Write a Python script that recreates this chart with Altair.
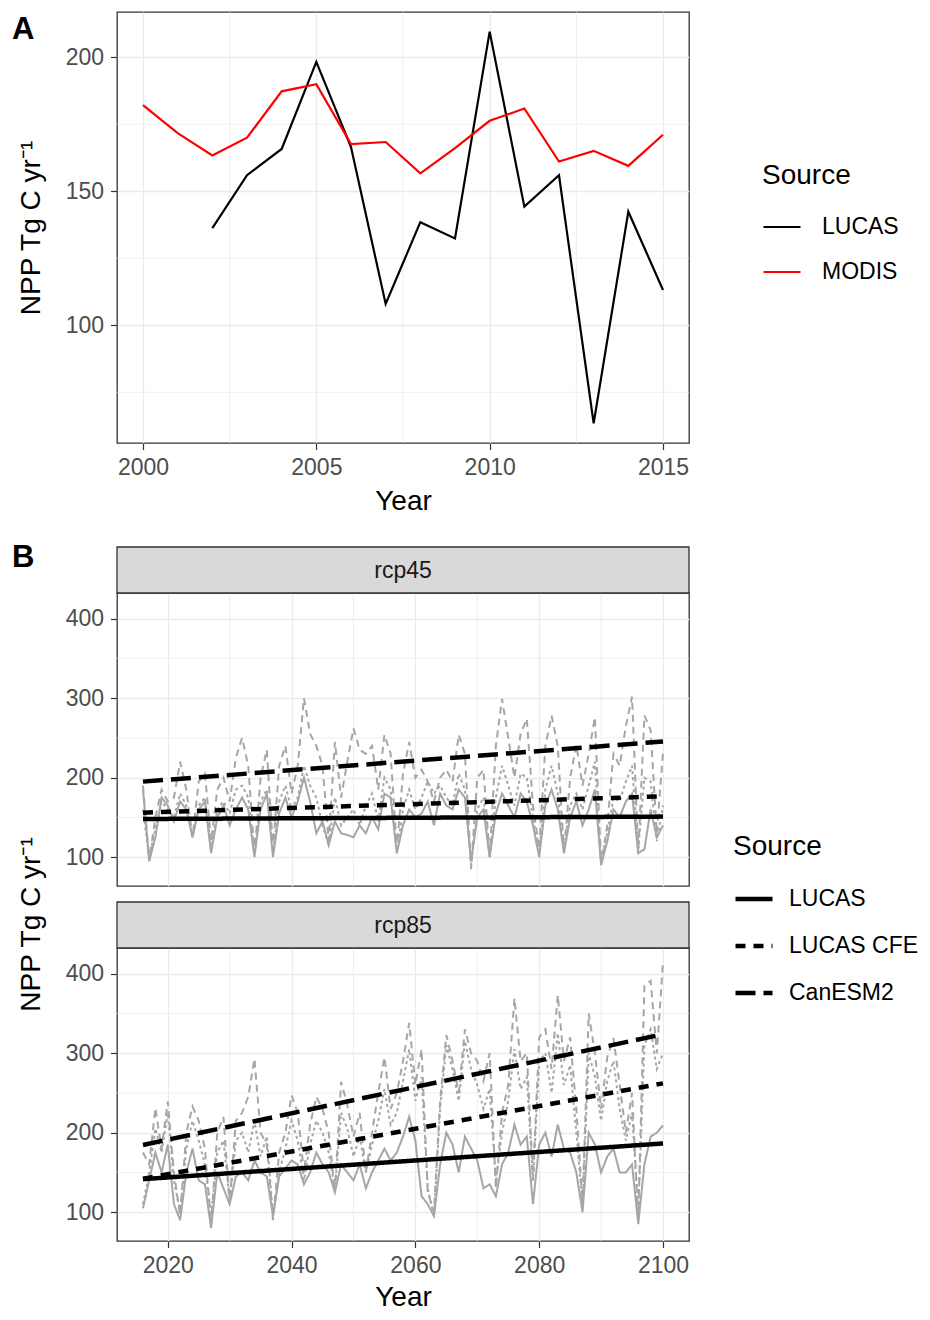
import altair as alt
import pandas as pd

FONT = "Liberation Sans"

# ---------------- Panel A data ----------------
years_a = list(range(2000, 2016))
lucas_a = [None, None, 136.3, 156.0, 165.8, 198.3, 166.5, 108.0, 138.5, 132.4,
           209.6, 144.3, 156.0, 63.4, 142.4, 113.2]
modis_a = [182.2, 171.7, 163.4, 170.0, 187.3, 190.0, 167.6, 168.4, 156.7, 166.1,
           176.3, 180.9, 161.1, 165.1, 159.5, 171.1]
sources_a = ["LUCAS", "MODIS"]
colors_a = ["#000000", "#FF0000"]
ticks_x_a = [2000, 2005, 2010, 2015]
ticks_y_a = [100, 150, 200]
minor_x_a = [2002.5, 2007.5, 2012.5]
minor_y_a = [75, 125, 175]

# ---------------- Panel B data ----------------
years_b = list(range(2016, 2101))
sources_b = ["LUCAS", "LUCAS CFE", "CanESM2"]
scenarios = ["rcp45", "rcp85"]

canesm2_rcp45 = [190, 95, 150, 185, 170, 175, 220, 185, 125, 195,
                 205, 120, 185, 200, 170, 225, 250, 215, 105, 200,
                 235, 110, 215, 240, 180, 215, 300, 255, 240, 215,
                 120, 245, 175, 220, 262, 235, 230, 240, 185, 254,
                 230, 110, 205, 245, 200, 210, 195, 170, 200, 210,
                 195, 254, 230, 85, 200, 210, 100, 240, 299, 250,
                 200, 255, 274, 165, 110, 240, 278, 240, 105, 200,
                 241, 190, 230, 276, 90, 140, 230, 215, 265, 302,
                 105, 278, 260, 130, 232]
cfe_rcp45 = [160, 100, 135, 170, 160, 150, 180, 165, 125, 165,
             175, 110, 160, 170, 155, 185, 190, 175, 105, 170,
             185, 105, 170, 190, 160, 175, 215, 190, 175, 140,
             115, 175, 140, 150, 160, 140, 165, 180, 145, 200,
             185, 105, 160, 185, 160, 175, 195, 180, 190, 175,
             165, 205, 185, 90, 160, 175, 100, 175, 215, 190,
             165, 205, 200, 150, 105, 185, 215, 180, 110, 165,
             180, 160, 190, 220, 95, 130, 175, 170, 195, 215,
             110, 200, 195, 120, 165]
lucas_rcp45 = [185, 95, 125, 175, 165, 145, 170, 160, 125, 160,
               170, 105, 150, 165, 140, 160, 175, 160, 100, 160,
               180, 100, 155, 175, 150, 170, 200, 170, 130, 145,
               115, 145, 130, 128, 125, 140, 130, 150, 135, 180,
               175, 105, 140, 160, 150, 155, 170, 140, 180, 165,
               160, 185, 175, 95, 150, 160, 100, 155, 180, 165,
               150, 180, 170, 140, 100, 165, 185, 160, 105, 150,
               170, 140, 160, 185, 90, 120, 160, 150, 170, 180,
               105, 110, 160, 125, 140]

canesm2_rcp85 = [175, 160, 231, 180, 239, 150, 95, 200, 233, 215,
                 180, 85, 200, 220, 110, 215, 225, 245, 293, 200,
                 185, 90, 175, 200, 247, 225, 150, 210, 245, 230,
                 200, 125, 264, 235, 195, 225, 150, 200, 250, 295,
                 230, 250, 290, 338, 260, 305, 125, 100, 240, 323,
                 290, 250, 330, 300, 290, 265, 300, 130, 225, 260,
                 369, 290, 300, 140, 320, 330, 280, 373, 290, 320,
                 230, 110, 350, 300, 230, 295, 319, 260, 200, 250,
                 90, 385, 391, 300, 414]
cfe_rcp85 = [110, 150, 205, 175, 225, 140, 100, 180, 215, 190,
             160, 95, 175, 190, 115, 190, 200, 175, 215, 170,
             195, 95, 150, 180, 215, 190, 140, 185, 215, 200,
             175, 130, 225, 205, 170, 195, 150, 185, 215, 255,
             210, 225, 265, 305, 240, 270, 130, 95, 230, 310,
             280, 240, 315, 280, 260, 230, 255, 140, 200, 240,
             305, 255, 270, 140, 290, 300, 250, 325, 260, 285,
             200, 110, 300, 270, 215, 265, 290, 230, 190, 225,
             100, 310, 330, 280, 300]
lucas_rcp85 = [105, 140, 175, 150, 185, 110, 90, 150, 180, 140,
               135, 80, 150, 130, 110, 145, 150, 140, 165, 150,
               145, 95, 145, 155, 165, 160, 135, 150, 175, 160,
               150, 125, 160, 150, 140, 160, 130, 150, 165, 180,
               165, 175, 195, 220, 190, 120, 110, 95, 160, 200,
               185, 150, 195, 180, 165, 130, 135, 120, 160, 175,
               210, 185, 195, 110, 185, 200, 170, 210, 180, 175,
               150, 100, 200, 185, 150, 170, 180, 150, 150, 160,
               85, 160, 195, 200, 209]

# linear trend end points (LUCAS, LUCAS CFE, CanESM2)
trend_years = [2016, 2100]
trend_rcp45_start = [148.0, 156.0, 195.0]
trend_rcp45_end = [151.0, 176.5, 245.5]
trend_rcp85_start = [141.5, 142.0, 184.5]
trend_rcp85_end = [186.4, 262.0, 323.8]

ticks_x_b = [2020, 2040, 2060, 2080, 2100]
ticks_y_b = [100, 200, 300, 400]
minor_x_b = [2030, 2050, 2070, 2090]
minor_y_b = [150, 250, 350]
panel_labels = ["A", "B"]
y_title = "NPP Tg C yr\u207b\u00b9"

GRID = "#EBEBEB"
W = 572
HA = 431
HB = 293
STRIP = 46

# ---------------- Panel A ----------------
rows = []
for yr, v in zip(years_a, lucas_a):
    if v is not None:
        rows.append({"year": yr, "npp": v, "source": "LUCAS"})
for yr, v in zip(years_a, modis_a):
    rows.append({"year": yr, "npp": v, "source": "MODIS"})
df_a = pd.DataFrame(rows)

xa_scale = alt.Scale(domain=[1999.25, 2015.75], nice=False, zero=False)
ya_scale = alt.Scale(domain=[56.09, 216.91], nice=False, zero=False)
xa_axis = alt.Axis(values=ticks_x_a, format="d", title="Year", labelFlush=False,
                   labelOverlap=False, titlePadding=8)
ya_axis = alt.Axis(values=ticks_y_a, title=y_title, titlePadding=20)

a_minx = alt.Chart(pd.DataFrame({"year": minor_x_a})).mark_rule(
    color=GRID, strokeWidth=0.8).encode(x=alt.X("year:Q", scale=xa_scale, axis=xa_axis))
a_miny = alt.Chart(pd.DataFrame({"npp": minor_y_a})).mark_rule(
    color=GRID, strokeWidth=0.8).encode(y=alt.Y("npp:Q", scale=ya_scale, axis=ya_axis))
a_lines = alt.Chart(df_a).mark_line(strokeWidth=2.2).encode(
    x=alt.X("year:Q", scale=xa_scale, axis=xa_axis),
    y=alt.Y("npp:Q", scale=ya_scale, axis=ya_axis),
    color=alt.Color("source:N", scale=alt.Scale(domain=sources_a, range=colors_a),
                    legend=alt.Legend(title="Source", orient="none", legendX=645,
                                      legendY=150, symbolType="stroke",
                                      symbolSize=1369, symbolStrokeWidth=2.2,
                                      titlePadding=17, rowPadding=13,
                                      labelOffset=20, padding=0)),
)
a_lab = alt.Chart(pd.DataFrame({"lab": [panel_labels[0]]})).mark_text(
    font=FONT, fontSize=31, fontWeight="bold", align="left", baseline="top",
    color="black").encode(x=alt.value(-105), y=alt.value(3), text="lab:N")

chart_a = alt.layer(a_minx, a_miny, a_lines, a_lab).properties(width=W, height=HA)

# spacer between panel A and panel B
spacer = alt.Chart(pd.DataFrame({"t": [""]})).mark_text().encode(text="t:N").properties(
    width=W, height=26, view=alt.ViewBackground(stroke="transparent", fill="transparent"))

# ---------------- Panel B ----------------
xb_scale = alt.Scale(domain=[2011.8, 2104.2], nice=False, zero=False)
yb_scale = alt.Scale(domain=[63.7, 432.3], nice=False, zero=False)
gray_dash = [[1, 0], [3, 3], [7, 5]]
trend_dash = [[1, 0], [10, 8], [20, 8]]


def panel(scn, series, t_start, t_end, top):
    rows = []
    for src, vals in zip(sources_b, series):
        for yr, v in zip(years_b, vals):
            rows.append({"year": yr, "npp": v, "source": src})
    df = pd.DataFrame(rows)
    trows = []
    for src, s0, s1 in zip(sources_b, t_start, t_end):
        trows.append({"year": trend_years[0], "npp": s0, "source": src})
        trows.append({"year": trend_years[1], "npp": s1, "source": src})
    dft = pd.DataFrame(trows)

    if top:
        xaxis = alt.Axis(values=ticks_x_b, labels=False, ticks=False, title=None)
        yaxis = alt.Axis(values=ticks_y_b, title=y_title, titlePadding=20, titleY=331)
        legend = alt.Legend(title="Source", orient="none", legendX=616, legendY=240,
                            symbolType="stroke", symbolSize=1369, symbolStrokeWidth=4.5,
                            symbolStrokeColor="black", titlePadding=17, rowPadding=14,
                            labelOffset=14, padding=0)
    else:
        xaxis = alt.Axis(values=ticks_x_b, format="d", title="Year", labelFlush=False,
                         labelOverlap=False, titlePadding=6)
        yaxis = alt.Axis(values=ticks_y_b, title=None)
        legend = None

    mx = alt.Chart(pd.DataFrame({"year": minor_x_b})).mark_rule(
        color=GRID, strokeWidth=0.8).encode(x=alt.X("year:Q", scale=xb_scale, axis=xaxis))
    my = alt.Chart(pd.DataFrame({"npp": minor_y_b})).mark_rule(
        color=GRID, strokeWidth=0.8).encode(y=alt.Y("npp:Q", scale=yb_scale, axis=yaxis))
    gray = alt.Chart(df).mark_line(color="#A6A6A6", strokeWidth=2).encode(
        x=alt.X("year:Q", scale=xb_scale, axis=xaxis),
        y=alt.Y("npp:Q", scale=yb_scale, axis=yaxis),
        strokeDash=alt.StrokeDash("source:N",
                                  scale=alt.Scale(domain=sources_b, range=gray_dash),
                                  legend=None),
    )
    trend = alt.Chart(dft).mark_line(color="black", strokeWidth=4.5).encode(
        x=alt.X("year:Q", scale=xb_scale, axis=xaxis),
        y=alt.Y("npp:Q", scale=yb_scale, axis=yaxis),
        strokeDash=alt.StrokeDash("source:N",
                                  scale=alt.Scale(domain=sources_b, range=trend_dash),
                                  legend=legend),
    )
    # facet strip above the panel
    sd = pd.DataFrame({"scenario": [scn]})
    strip_bg = alt.Chart(sd).mark_rect(fill="#D9D9D9", stroke="#333333",
                                       strokeWidth=1.3).encode(
        x=alt.value(0), x2=alt.value(W), y=alt.value(-STRIP), y2=alt.value(0))
    strip_tx = alt.Chart(sd).mark_text(font=FONT, fontSize=23, color="#1A1A1A",
                                       baseline="middle").encode(
        x=alt.value(W / 2), y=alt.value(-STRIP / 2 + 1), text="scenario:N")
    layers = [mx, my, gray, trend, strip_bg, strip_tx]
    if top:
        b_lab = alt.Chart(pd.DataFrame({"lab": [panel_labels[1]]})).mark_text(
            font=FONT, fontSize=31, fontWeight="bold", align="left", baseline="top",
            color="black").encode(x=alt.value(-105), y=alt.value(-STRIP - 4), text="lab:N")
        layers.append(b_lab)
    return alt.layer(*layers).resolve_scale(
        strokeDash="independent").properties(width=W, height=HB)


p45 = panel(scenarios[0], [lucas_rcp45, cfe_rcp45, canesm2_rcp45],
            trend_rcp45_start, trend_rcp45_end, True)
p85 = panel(scenarios[1], [lucas_rcp85, cfe_rcp85, canesm2_rcp85],
            trend_rcp85_start, trend_rcp85_end, False)

chart = alt.vconcat(chart_a, spacer, p45, p85, spacing=62, bounds="flush").resolve_scale(
    strokeDash="independent", color="independent"
).properties(
    padding={"left": 3, "top": 2, "right": 0, "bottom": 0}
).configure_view(
    stroke="#333333", strokeWidth=1.3, fill="white"
).configure_axis(
    domain=False, tickColor="#333333", tickSize=6.5, tickWidth=1.2,
    labelFont=FONT, labelFontSize=23, labelColor="#4D4D4D", labelPadding=7,
    titleFont=FONT, titleFontSize=28, titleFontWeight="normal", titleColor="black",
    gridColor=GRID, gridWidth=1.4,
).configure_legend(
    titleFont=FONT, titleFontSize=28, titleFontWeight="normal", titleColor="black",
    labelFont=FONT, labelFontSize=23, labelColor="black",
)

chart.save("out.html", embed_options={"renderer": "svg", "actions": False})
